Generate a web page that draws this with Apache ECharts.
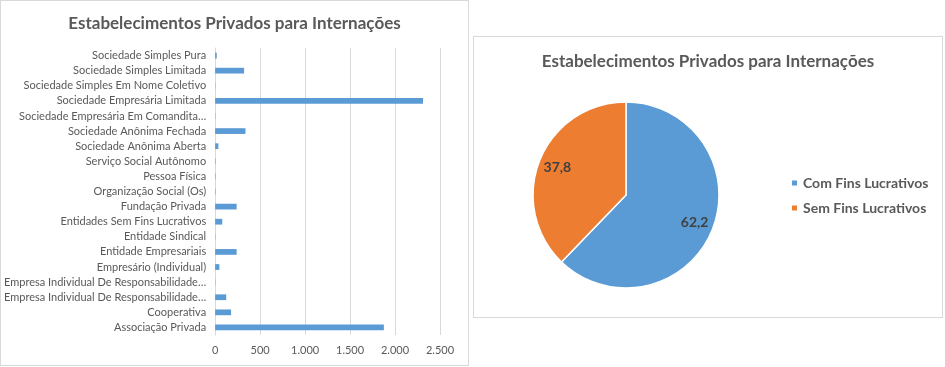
<!DOCTYPE html>
<html><head><meta charset="utf-8">
<script src="https://cdn.jsdelivr.net/npm/echarts@6/dist/echarts.min.js"></script>
<style>
html,body{margin:0;padding:0;background:#fff;width:945px;height:367px;overflow:hidden;}
#left{position:absolute;left:0;top:0;width:469px;height:366px;border:1px solid #d9d9d9;box-sizing:border-box;}
#right{position:absolute;left:473px;top:36px;width:470px;height:282px;border:1px solid #d9d9d9;box-sizing:border-box;}
#c1,#c2{position:absolute;left:0;top:0;width:100%;height:100%;}
</style></head>
<body>
<div id="left"><div id="c1"></div></div>
<div id="right"><div id="c2"></div></div>
<script>
const titleText = 'Estabelecimentos Privados para Internações';
const categories = [
  'Sociedade Simples Pura',
  'Sociedade Simples Limitada',
  'Sociedade Simples Em Nome Coletivo',
  'Sociedade Empresária Limitada',
  'Sociedade Empresária Em Comandita…',
  'Sociedade Anônima Fechada',
  'Sociedade Anônima Aberta',
  'Serviço Social Autônomo',
  'Pessoa Física',
  'Organização Social (Os)',
  'Fundação Privada',
  'Entidades Sem Fins Lucrativos',
  'Entidade Sindical',
  'Entidade Empresariais',
  'Empresário (Individual)',
  'Empresa Individual De Responsabilidade…',
  'Empresa Individual De Responsabilidade…',
  'Cooperativa',
  'Associação Privada'
];
const values = [18, 322, 3, 2311, 3, 337, 36, 5, 5, 5, 239, 79, 3, 239, 47, 3, 123, 177, 1876];
const xTicks = {min: 0, max: 2500, interval: 500};

const pieNames = ['Com Fins Lucrativos', 'Sem Fins Lucrativos'];
const pieValues = [62.2, 37.8];
const pieColors = ['#5B9BD5', '#ED7D31'];

const FONT = 'Lato';
const fmtThousands = v => String(v).replace(/\B(?=(\d{3})+(?!\d))/g, '.');

const c1 = echarts.init(document.getElementById('c1'), null, {renderer: 'canvas'});
c1.setOption({
  animation: false,
  title: {text: titleText, left: 'center', top: 9,
    textStyle: {fontFamily: FONT, fontSize: 17, fontWeight: 'bold', color: '#595959'}},
  grid: {left: 211, right: 28, top: 47, bottom: 30},
  xAxis: {type: 'value', min: xTicks.min, max: xTicks.max, interval: xTicks.interval,
    axisLine: {show: false}, axisTick: {show: false},
    splitLine: {lineStyle: {color: '#d9d9d9', width: 1}},
    axisLabel: {formatter: fmtThousands, color: '#595959', fontFamily: FONT, fontSize: 11, margin: 10}},
  yAxis: {type: 'category', data: categories, inverse: true,
    axisLine: {show: true, lineStyle: {color: '#d9d9d9'}}, axisTick: {show: false},
    axisLabel: {color: '#595959', fontFamily: FONT, fontSize: 11, margin: 9, interval: 0}},
  series: [{type: 'bar', data: values, barWidth: '38%', itemStyle: {color: '#5B9BD5'}}]
});

const c2 = echarts.init(document.getElementById('c2'), null, {renderer: 'canvas'});
const pieData = pieNames.map((n, i) => ({name: n, value: pieValues[i], itemStyle: {color: pieColors[i]}}));
c2.setOption({
  animation: false,
  title: {text: titleText, left: 'center', top: 11,
    textStyle: {fontFamily: FONT, fontSize: 17, fontWeight: 'bold', color: '#595959'}},
  legend: {orient: 'vertical', left: 311, top: 134, data: pieNames, icon: 'rect',
    itemWidth: 7, itemHeight: 7, itemGap: 11, selectedMode: false,
    textStyle: {fontFamily: FONT, fontSize: 14, fontWeight: 'bold', color: '#595959'}},
  series: [
    {type: 'pie', center: [152, 158], radius: [0, 93], startAngle: 90, clockwise: true,
     data: pieData, label: {show: false}, labelLine: {show: false},
     itemStyle: {borderColor: '#fff', borderWidth: 1.5}, silent: true},
    {type: 'pie', center: [152, 158], radius: [0, 142], startAngle: 90, clockwise: true,
     data: pieNames.map((n, i) => ({name: n, value: pieValues[i]})),
     itemStyle: {color: 'rgba(0,0,0,0)'}, silent: true, legendHoverLink: false,
     label: {show: true, position: 'inside', formatter: p => String(p.value).replace('.', ','),
       fontFamily: FONT, fontSize: 14, fontWeight: 'bold', color: '#404040'},
     labelLine: {show: false}}
  ]
});
</script>
</body></html>
